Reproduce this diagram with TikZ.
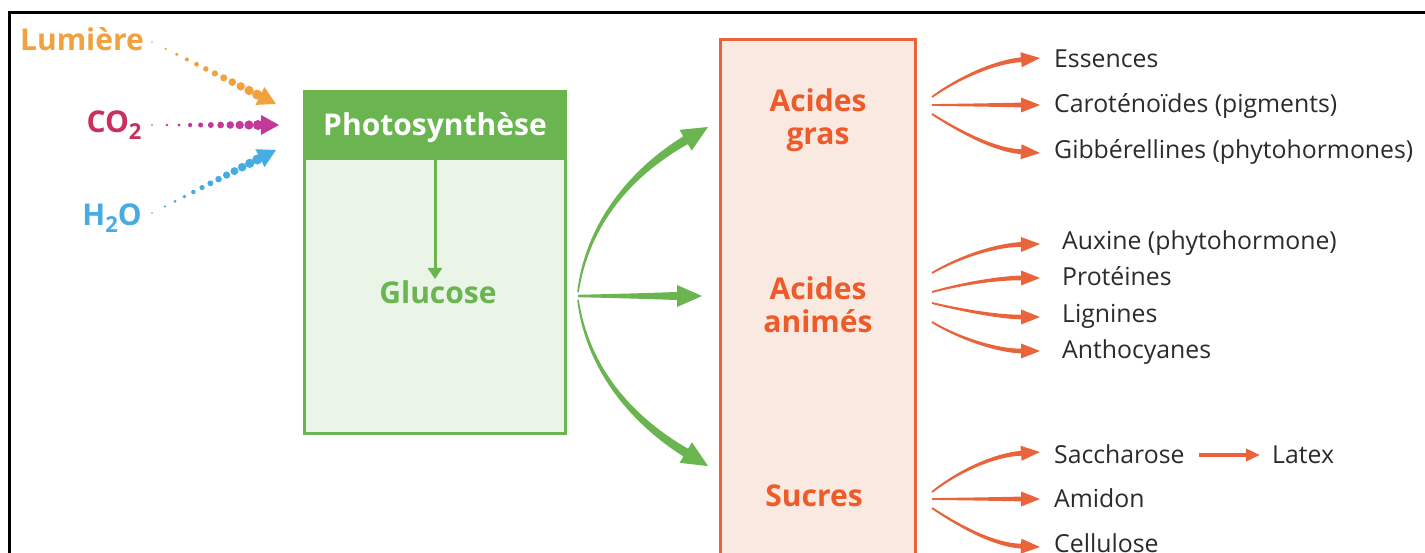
\documentclass[tikz,border=0pt]{standalone}
\usepackage{fontspec}
\setmainfont{Open Sans}
\usetikzlibrary{calc,arrows.meta}

\definecolor{lumcol}{HTML}{F1A23F}
\definecolor{cotxt}{HTML}{C9305E}
\definecolor{codot}{HTML}{C2399A}
\definecolor{h2ocol}{HTML}{47ACE2}
\definecolor{grn}{HTML}{6AB550}
\definecolor{grnfill}{HTML}{EAF4E7}
\definecolor{org}{HTML}{E9643A}
\definecolor{orgfill}{HTML}{FAE9E0}
\definecolor{orgtxt}{HTML}{EE5B2B}
\definecolor{txt}{HTML}{2B2B2B}

\newcommand\bigbold{\fontsize{30}{33}\selectfont\bfseries}
\newcommand\listfont{\fontsize{24.8}{28}\selectfont}

% tapered curved arrow: colour, start, control 1, control 2, tip,
% half width at start, half width at head, head length, half head width
\newcommand\taperarrow[9]{%
  \coordinate (tb) at ($(#5)!#8!(#4)$);
  \pgfmathsetmacro\wa{(2*#6+#7)/3}
  \pgfmathsetmacro\wb{(#6+2*#7)/3}
  \coordinate (aL) at ($(#2)!\wa pt!90:(#3)$);
  \coordinate (aR) at ($(#2)!\wa pt!-90:(#3)$);
  \coordinate (bL) at ($(tb)!\wb pt!-90:(#4)$);
  \coordinate (bR) at ($(tb)!\wb pt!90:(#4)$);
  \coordinate (c1L) at ($(#3)+(aL)-(#2)$);
  \coordinate (c1R) at ($(#3)+(aR)-(#2)$);
  \coordinate (c2L) at ($(#4)+(bL)-(tb)$);
  \coordinate (c2R) at ($(#4)+(bR)-(tb)$);
  \fill[#1] ($(#2)!#6!90:(#3)$) .. controls (c1L) and (c2L) .. ($(tb)!#7!-90:(#4)$)
    -- ($(tb)!#9!-90:(#4)$) -- (#5) -- ($(tb)!#9!90:(#4)$) -- ($(tb)!#7!90:(#4)$)
    .. controls (c2R) and (c1R) .. ($(#2)!#6!-90:(#3)$) -- cycle;
}

% arrow made of growing dots: colour, start, tip, number of steps
\newcommand\dotarrow[4]{%
  \coordinate (db) at ($(#3)!18pt!(#2)$);
  \coordinate (de) at ($(#3)!21pt!(#2)$);
  \foreach \i in {0,...,#4}{
    \pgfmathsetmacro\rr{0.9+4.1*\i/#4}
    \pgfmathsetmacro\tq{(\i/#4)^0.85}
    \fill[#1] ($(#2)!\tq!(de)$) circle[radius=\rr pt];
  }
  \fill[#1] (#3) -- ($(db)!10pt!90:(#3)$) -- ($(db)!10pt!-90:(#3)$) -- cycle;
}

\begin{document}
\begin{tikzpicture}[x=1pt,y=-1pt,
  lbl/.style={font=\bigbold, text height=21pt, text depth=0pt},
  item/.style={font=\listfont, text=txt, inner sep=0pt, anchor=west,
               text height=17pt, text depth=0pt},
  cls/.style={font=\bigbold, text=orgtxt, align=center}]
\useasboundingbox (0,0) rectangle (1425,553);
\clip (0,0) rectangle (1425,553);
\fill[white] (0,0) rectangle (1425,553);

% frame
\draw[line width=3pt] (9,560) -- (9,13) -- (1430,13);

% inputs
\node[lbl, text=lumcol] (lum) at (82,40) {Lumière};
\node[lbl, text=cotxt] (co2) at (114,122) {CO\raisebox{-0.4ex}{\fontsize{22}{22}\selectfont 2}};
\node[lbl, text=h2ocol] (h2o) at (112,215) {H\raisebox{-0.4ex}{\fontsize{22}{22}\selectfont 2}O};

\coordinate (lumS) at (152,42);  \coordinate (lumT) at (276,104);
\coordinate (coS)  at (152,125); \coordinate (coT)  at (279,125);
\coordinate (h2S)  at (152,213); \coordinate (h2T)  at (276,150);
\dotarrow{lumcol}{lumS}{lumT}{11}
\dotarrow{codot}{coS}{coT}{10}
\dotarrow{h2ocol}{h2S}{h2T}{12}

% photosynthesis box
\fill[grnfill] (304.5,91.5) rectangle (565.5,433.5);
\fill[grn] (303,90) rectangle (567,160);
\draw[grn, line width=3pt] (304.5,91.5) rectangle (565.5,433.5);
\node[lbl, text=white] (ps) at (435,125) {Photosynthèse};
\node[lbl, text=grn] (glu) at (438,293) {Glucose};
\coordinate (hb) at (435,160);
\draw[grn, line width=3pt, -{Triangle[length=11pt,width=14pt]}] (hb) -- (glu.north -| hb);

% products box
\fill[orgfill] (720.5,39.5) rectangle (915.5,600);
\draw[org, line width=3pt] (720.5,600) -- (720.5,39.5) -- (915.5,39.5) -- (915.5,600);
\node[cls] (ag) at (818,120) {Acides\\gras};
\node[cls] (aa) at (818,305) {Acides\\animés};
\node[cls] (su) at (814,496) {Sucres};

% glucose to the three families
\coordinate (gs1) at (578,292); \coordinate (gs2) at (578,296); \coordinate (gs3) at (578,300);
\coordinate (gt1) at (708,127); \coordinate (gt2) at (702,296); \coordinate (gt3) at (708,466);
\coordinate (gc11) at (588,220); \coordinate (gc12) at (635,170);
\coordinate (gc21) at (620,296); \coordinate (gc22) at (650,296);
\coordinate (gc31) at (588,372); \coordinate (gc32) at (635,422);
\taperarrow{grn}{gs1}{gc11}{gc12}{gt1}{0.8pt}{4.5pt}{26pt}{12pt}
\taperarrow{grn}{gs2}{gc21}{gc22}{gt2}{1.2pt}{4pt}{25pt}{11pt}
\taperarrow{grn}{gs3}{gc31}{gc32}{gt3}{0.8pt}{4.5pt}{26pt}{12pt}

% fatty acids
\node[item] (ess) at (1054,59)  {Essences};
\node[item] (car) at (1054,104) {Caroténoïdes (pigments)};
\node[item] (gib) at (1054,150) {Gibbérellines (phytohormones)};
\coordinate (o11) at (932,97);  \coordinate (o12) at (932,105); \coordinate (o13) at (932,114);
\coordinate (t11) at ($(ess.west)+(-14,-1)$);
\coordinate (t12) at ($(car.west)+(-14,1)$);
\coordinate (t13) at ($(gib.west)+(-14,3)$);
\coordinate (c111) at (960,77);  \coordinate (c112) at (995,62);
\coordinate (c121) at (970,105); \coordinate (c122) at (1000,105);
\coordinate (c131) at (962,133); \coordinate (c132) at (995,150);
\taperarrow{org}{o11}{c111}{c112}{t11}{0.9pt}{2.4pt}{19pt}{7.5pt}
\taperarrow{org}{o12}{c121}{c122}{t12}{0.9pt}{2.4pt}{19pt}{7.5pt}
\taperarrow{org}{o13}{c131}{c132}{t13}{0.9pt}{2.4pt}{19pt}{7.5pt}

% amino acids
\node[item] (aux) at (1062,241) {Auxine (phytohormone)};
\node[item] (pro) at (1062,277) {Protéines};
\node[item] (lig) at (1062,314) {Lignines};
\node[item] (ant) at (1062,350) {Anthocyanes};
\coordinate (o21) at (932,273); \coordinate (o22) at (932,292);
\coordinate (o23) at (932,303); \coordinate (o24) at (932,322);
\coordinate (t21) at ($(aux.west)+(-22,3)$);
\coordinate (t22) at ($(pro.west)+(-22,1)$);
\coordinate (t23) at ($(lig.west)+(-22,3)$);
\coordinate (t24) at ($(ant.west)+(-22,1)$);
\coordinate (c211) at (965,254); \coordinate (c212) at (1000,245);
\coordinate (c221) at (965,283); \coordinate (c222) at (1000,278);
\coordinate (c231) at (965,311); \coordinate (c232) at (1000,317);
\coordinate (c241) at (962,340); \coordinate (c242) at (1000,351);
\taperarrow{org}{o21}{c211}{c212}{t21}{0.9pt}{2.4pt}{19pt}{7.5pt}
\taperarrow{org}{o22}{c221}{c222}{t22}{0.9pt}{2.4pt}{19pt}{7.5pt}
\taperarrow{org}{o23}{c231}{c232}{t23}{0.9pt}{2.4pt}{19pt}{7.5pt}
\taperarrow{org}{o24}{c241}{c242}{t24}{0.9pt}{2.4pt}{19pt}{7.5pt}

% sugars
\node[item] (sac) at (1054,455) {Saccharose};
\node[item] (ami) at (1054,499) {Amidon};
\node[item] (cel) at (1054,544) {Cellulose};
\node[item] (lat) at (1272,455) {Latex};
\coordinate (o31) at (932,492); \coordinate (o32) at (932,499); \coordinate (o33) at (932,508);
\coordinate (t31) at ($(sac.west)+(-14,-3)$);
\coordinate (t32) at ($(ami.west)+(-14,0)$);
\coordinate (t33) at ($(cel.west)+(-14,3)$);
\coordinate (c311) at (960,470); \coordinate (c312) at (995,455);
\coordinate (c321) at (970,499); \coordinate (c322) at (1000,499);
\coordinate (c331) at (962,528); \coordinate (c332) at (995,545);
\taperarrow{org}{o31}{c311}{c312}{t31}{0.9pt}{2.4pt}{19pt}{7.5pt}
\taperarrow{org}{o32}{c321}{c322}{t32}{0.9pt}{2.4pt}{19pt}{7.5pt}
\taperarrow{org}{o33}{c331}{c332}{t33}{0.9pt}{2.4pt}{19pt}{7.5pt}
\draw[org, line width=3.5pt, -{Triangle[length=14pt,width=12pt]}]
  ($(sac.east)+(14,0)$) -- ($(lat.west)+(-12,0)$);
\end{tikzpicture}
\end{document}
